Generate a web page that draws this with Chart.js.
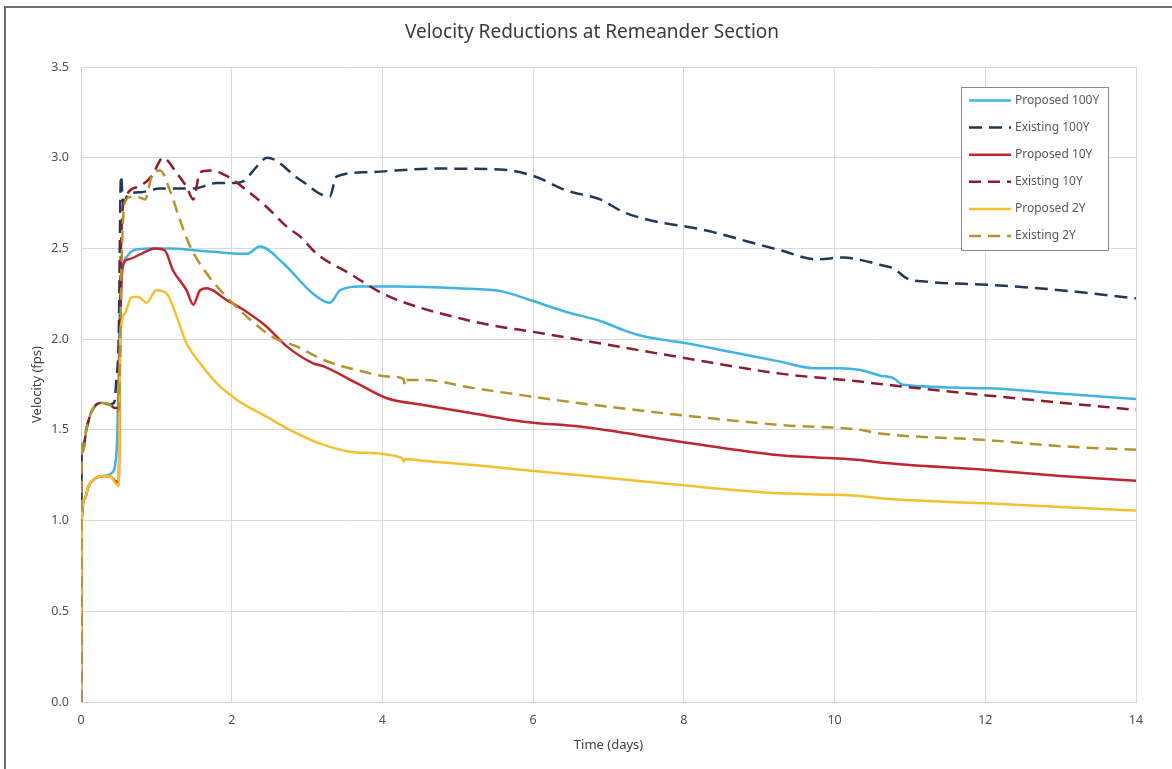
<!DOCTYPE html>
<html>
<head>
<meta charset="utf-8">
<script src="https://cdn.jsdelivr.net/npm/chart.js@4/dist/chart.umd.min.js"></script>
<style>
  body { margin: 0; background: #fff; }
  #wrap { position: relative; width: 1172px; height: 769px; overflow: hidden; }
  #frame { position: absolute; left: 4px; top: 6px; width: 1200px; height: 800px;
           border: 2px solid #6e6e6e; pointer-events: none; }
  canvas { position: absolute; left: 0; top: 0; }
</style>
</head>
<body>
<div id="wrap">
  <canvas id="velChart" width="1172" height="769"></canvas>
  <div id="frame"></div>
</div>
<script>
// series data (time in days, velocity in fps)
var chartTitle = "Velocity Reductions at Remeander Section";
var seriesNames = ["Proposed 100Y", "Existing 100Y", "Proposed 10Y", "Existing 10Y", "Proposed 2Y", "Existing 2Y"];

var prop100T = [0, 0.01, 0.05, 0.1, 0.2, 0.3, 0.4, 0.45, 0.48, 0.5, 0.52, 0.56, 0.62, 0.7, 0.9, 1.2, 1.5, 1.8, 2.1, 2.2, 2.375, 2.68, 3.08, 3.3, 3.44, 3.7, 4.2, 5.0, 5.6, 6.0, 6.44, 6.89, 7.2, 7.42, 7.73, 8.04, 8.61, 9.28, 9.72, 10.07, 10.34, 10.6, 10.78, 10.91, 12.02, 12.99, 14];
var prop100V = [0, 1.0, 1.12, 1.19, 1.235, 1.245, 1.26, 1.30, 1.45, 1.8, 2.2, 2.40, 2.46, 2.49, 2.50, 2.50, 2.49, 2.48, 2.47, 2.47, 2.51, 2.42, 2.25, 2.20, 2.27, 2.29, 2.29, 2.28, 2.262, 2.21, 2.15, 2.10, 2.05, 2.02, 1.996, 1.977, 1.93, 1.876, 1.84, 1.84, 1.83, 1.80, 1.785, 1.748, 1.73, 1.70, 1.67];

var exist100T = [0, 0.01, 0.03, 0.07, 0.14, 0.27, 0.38, 0.44, 0.47, 0.5, 0.53, 0.56, 0.63, 0.8, 1.05, 1.3, 1.49, 1.8, 2.0, 2.15, 2.33, 2.47, 2.91, 3.30, 3.39, 3.79, 4.68, 5.56, 6.0, 6.44, 6.89, 7.2, 7.46, 7.73, 8.04, 8.39, 8.83, 9.28, 9.76, 10.12, 10.34, 10.6, 10.78, 10.96, 11.22, 12.02, 12.99, 14];
var exist100V = [0, 1.43, 1.40, 1.50, 1.60, 1.65, 1.64, 1.65, 1.78, 2.0, 2.90, 2.75, 2.80, 2.81, 2.83, 2.83, 2.83, 2.86, 2.86, 2.87, 2.95, 3.00, 2.877, 2.785, 2.896, 2.92, 2.94, 2.935, 2.90, 2.82, 2.77, 2.70, 2.665, 2.64, 2.62, 2.59, 2.54, 2.49, 2.44, 2.45, 2.437, 2.41, 2.39, 2.335, 2.317, 2.30, 2.27, 2.225];

var prop10T = [0, 0.01, 0.05, 0.1, 0.2, 0.3, 0.4, 0.45, 0.5, 0.52, 0.55, 0.63, 0.80, 0.98, 1.11, 1.22, 1.40, 1.49, 1.58, 1.67, 1.93, 2.2, 2.46, 2.73, 3.08, 3.22, 3.66, 4.06, 4.54, 5.21, 5.87, 6.62, 7.95, 9.28, 10.34, 10.6, 12.02, 13.0, 14];
var prop10V = [0, 1.0, 1.12, 1.19, 1.235, 1.245, 1.24, 1.22, 1.21, 2.0, 2.40, 2.44, 2.47, 2.50, 2.49, 2.38, 2.27, 2.19, 2.27, 2.28, 2.216, 2.15, 2.07, 1.96, 1.867, 1.85, 1.757, 1.674, 1.637, 1.59, 1.545, 1.518, 1.435, 1.36, 1.334, 1.32, 1.279, 1.246, 1.22];

var exist10T = [0, 0.01, 0.03, 0.07, 0.14, 0.27, 0.38, 0.45, 0.5, 0.53, 0.58, 0.76, 0.94, 1.09, 1.27, 1.40, 1.49, 1.58, 1.71, 1.93, 2.2, 2.46, 2.73, 2.91, 3.13, 3.57, 4.01, 4.45, 5.12, 5.43, 6.0, 6.62, 7.95, 9.28, 10.34, 10.6, 12.02, 13.0, 14];
var exist10V = [0, 1.43, 1.40, 1.50, 1.60, 1.65, 1.64, 1.62, 1.62, 2.5, 2.77, 2.84, 2.90, 3.00, 2.915, 2.84, 2.77, 2.92, 2.93, 2.90, 2.82, 2.73, 2.62, 2.565, 2.47, 2.36, 2.25, 2.18, 2.106, 2.078, 2.04, 1.996, 1.90, 1.81, 1.766, 1.753, 1.69, 1.65, 1.61];

var prop2T = [0, 0.01, 0.05, 0.1, 0.2, 0.3, 0.4, 0.45, 0.5, 0.52, 0.58, 0.67, 0.76, 0.87, 1.0, 1.14, 1.27, 1.40, 1.58, 1.80, 2.07, 2.46, 2.77, 3.22, 3.66, 4.26, 4.28, 4.30, 4.54, 5.21, 5.87, 6.62, 7.95, 9.28, 10.34, 10.6, 12.02, 13.0, 14];
var prop2V = [0, 1.02, 1.12, 1.19, 1.235, 1.245, 1.24, 1.21, 1.19, 2.0, 2.14, 2.23, 2.234, 2.20, 2.27, 2.25, 2.124, 1.977, 1.867, 1.757, 1.665, 1.573, 1.50, 1.417, 1.375, 1.345, 1.325, 1.340, 1.33, 1.306, 1.279, 1.25, 1.196, 1.15, 1.136, 1.123, 1.095, 1.075, 1.055];

var exist2T = [0, 0.01, 0.03, 0.07, 0.14, 0.27, 0.38, 0.45, 0.5, 0.54, 0.58, 0.67, 0.78, 0.85, 0.94, 1.05, 1.18, 1.31, 1.45, 1.67, 1.93, 2.2, 2.55, 2.86, 3.22, 3.66, 4.10, 4.28, 4.30, 4.32, 4.54, 5.21, 5.87, 6.62, 7.95, 9.28, 10.34, 10.6, 12.02, 13.0, 14];
var exist2V = [0, 1.43, 1.38, 1.50, 1.60, 1.65, 1.64, 1.61, 1.60, 2.45, 2.75, 2.785, 2.78, 2.77, 2.90, 2.93, 2.82, 2.66, 2.51, 2.36, 2.234, 2.124, 2.01, 1.96, 1.885, 1.83, 1.793, 1.78, 1.745, 1.775, 1.775, 1.73, 1.69, 1.647, 1.582, 1.527, 1.50, 1.48, 1.444, 1.41, 1.39];

var xTicks = [0, 2, 4, 6, 8, 10, 12, 14];
var yTicks = [0.0, 0.5, 1.0, 1.5, 2.0, 2.5, 3.0, 3.5];

function toPoints(t, v) {
    var pts = [];
    for (var i = 0; i < t.length; i++) {
        pts.push({ x: t[i], y: v[i] });
    }
    return pts;
}

function makeSet(idx, t, v, color, dash) {
    return {
        label: seriesNames[idx],
        data: toPoints(t, v),
        borderColor: color,
        backgroundColor: color,
        borderWidth: 2.5,
        borderDash: dash,
        pointRadius: 0,
        cubicInterpolationMode: 'monotone',
        order: -idx   // later series on top, like the original
    };
}

// title (slightly left of plot centre) and the boxed legend inside the plot
var extras = {
    id: 'extras',
    afterDraw: function(chart) {
        var c = chart.ctx;
        c.save();
        c.font = '19px "Noto Sans"';
        c.fillStyle = '#3a3a3a';
        c.textAlign = 'center';
        c.textBaseline = 'middle';
        c.fillText(chartTitle, 592, 33);

        var x0 = 961, y0 = 87, w = 147, h = 163;
        c.textAlign = 'left';
        c.fillStyle = '#ffffff';
        c.fillRect(x0, y0, w, h);
        c.strokeStyle = '#8a8a8a';
        c.lineWidth = 1;
        c.strokeRect(x0 + 0.5, y0 + 0.5, w, h);
        c.font = '12px "Noto Sans"';
        chart.data.datasets.forEach(function(ds, i) {
            var yy = 100.5 + i * 27.1;
            c.beginPath();
            c.setLineDash(ds.borderDash || []);
            c.strokeStyle = ds.borderColor;
            c.lineWidth = 2.5;
            c.moveTo(969, yy);
            c.lineTo(1011, yy);
            c.stroke();
            c.setLineDash([]);
            c.fillStyle = '#595959';
            c.fillText(ds.label, 1015, yy);
        });
        c.restore();
    }
};

var ctx = document.getElementById('velChart');
var chart = new Chart(ctx, {
    type: 'line',
    data: {
        datasets: [
            makeSet(0, prop100T, prop100V, '#3fb4e3', []),
            makeSet(1, exist100T, exist100V, '#1f3957', [13, 7]),
            makeSet(2, prop10T, prop10V, '#c0262d', []),
            makeSet(3, exist10T, exist10V, '#8c1d2c', [12, 7]),
            makeSet(4, prop2T, prop2V, '#f5c030', []),
            makeSet(5, exist2T, exist2V, '#b3942e', [12, 7])
        ]
    },
    options: {
        responsive: false,
        animation: false,
        layout: { padding: { left: 26, right: 36, top: 67, bottom: 12 } },
        plugins: {
            legend: { display: false },
            tooltip: { enabled: false },
            title: { display: false }
        },
        scales: {
            x: {
                type: 'linear',
                min: 0,
                max: 14,
                afterBuildTicks: function(axis) {
                    axis.ticks = xTicks.map(function(v) { return { value: v }; });
                },
                afterFit: function(axis) { axis.height = 55; },
                grid: { color: '#d9d9d9', drawTicks: false, lineWidth: 1 },
                border: { color: '#d0d0d0' },
                ticks: {
                    color: '#505050',
                    padding: 11,
                    font: { family: '"Noto Sans"', size: 12.5 }
                },
                title: {
                    display: true,
                    text: 'Time (days)',
                    color: '#404040',
                    font: { family: '"Noto Sans"', size: 13 },
                    padding: { top: 4 }
                }
            },
            y: {
                type: 'linear',
                min: 0,
                max: 3.5,
                afterBuildTicks: function(axis) {
                    axis.ticks = yTicks.map(function(v) { return { value: v }; });
                },
                afterFit: function(axis) { axis.width = 55; },
                grid: { color: '#d9d9d9', drawTicks: false, lineWidth: 1 },
                border: { color: '#d0d0d0' },
                ticks: {
                    color: '#505050',
                    padding: 12,
                    font: { family: '"Noto Sans"', size: 12.5 },
                    callback: function(v) { return Number(v).toFixed(1); }
                },
                title: {
                    display: true,
                    text: 'Velocity (fps)',
                    color: '#404040',
                    font: { family: '"Noto Sans"', size: 13 },
                    padding: { top: 3, bottom: 2 }
                }
            }
        }
    },
    plugins: [extras]
});
</script>
</body>
</html>
